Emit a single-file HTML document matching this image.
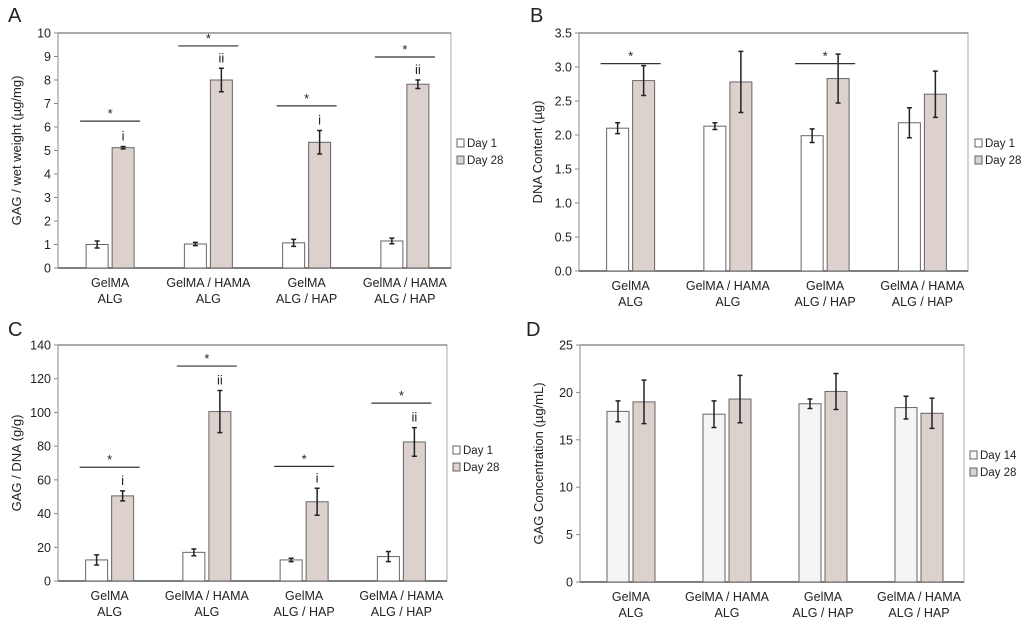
<!DOCTYPE html>
<html><head><meta charset="utf-8"><style>
body{margin:0;background:#fff;font-family:"Liberation Sans",sans-serif;}
svg{display:block}
text{font-family:"Liberation Sans",sans-serif;fill:#222}
</style></head><body>
<svg id="fig" width="1024" height="627" viewBox="0 0 1024 627"></svg>
<script>
const categories = [["GelMA","ALG"],["GelMA / HAMA","ALG"],["GelMA","ALG / HAP"],["GelMA / HAMA","ALG / HAP"]];
// Panel A
const aDay1 = [1.0, 1.02, 1.07, 1.15];
const aDay1Err = [0.15, 0.07, 0.15, 0.12];
const aDay28 = [5.12, 8.0, 5.35, 7.82];
const aDay28Err = [0.05, 0.5, 0.5, 0.18];
const aSig = [6.25, 9.45, 6.9, 8.98];
const aLetters = ["i","ii","i","ii"];
const aTicks = [0,1,2,3,4,5,6,7,8,9,10];
// Panel B
const bDay1 = [2.1, 2.13, 1.99, 2.18];
const bDay1Err = [0.08, 0.05, 0.1, 0.22];
const bDay28 = [2.8, 2.78, 2.83, 2.6];
const bDay28Err = [0.22, 0.45, 0.36, 0.34];
const bSig = [3.05, null, 3.05, null];
const bLetters = ["","","",""];
const bTicks = [0,0.5,1,1.5,2,2.5,3,3.5];
// Panel C
const cDay1 = [12.5, 17, 12.5, 14.5];
const cDay1Err = [3, 2, 1, 3];
const cDay28 = [50.5, 100.5, 47, 82.5];
const cDay28Err = [3, 12.5, 8, 8.5];
const cSig = [67.5, 127.5, 68, 105.5];
const cLetters = ["i","ii","i","ii"];
const cTicks = [0,20,40,60,80,100,120,140];
// Panel D
const dDay14 = [18, 17.7, 18.8, 18.4];
const dDay14Err = [1.1, 1.4, 0.5, 1.2];
const dDay28 = [19, 19.3, 20.1, 17.8];
const dDay28Err = [2.3, 2.5, 1.9, 1.6];
const dSig = [null,null,null,null];
const dLetters = ["","","",""];
const dTicks = [0,5,10,15,20,25];

const NS="http://www.w3.org/2000/svg";
const svg=document.getElementById('fig');
function mk(tag,attrs,parent,txt){const e=document.createElementNS(NS,tag);for(const k in attrs)e.setAttribute(k,attrs[k]);if(txt!==undefined)e.textContent=txt;(parent||svg).appendChild(e);return e;}

function panel(p){
  const g=mk('g',{});
  
  
  const ymax=p.ticks[p.ticks.length-1];
  const y=v=>p.y0-(v/ymax)*(p.y0-p.y1);
  const gw=(p.x1-p.x0)/4;
  const t=mk('text',{x:p.lx,y:p.ly,'font-size':20},g,p.id);
  
  
  const fr=mk('rect',{x:p.x0,y:p.y1,width:p.x1-p.x0,height:p.y0-p.y1,fill:'none',stroke:'#aaa','stroke-width':1},g);
  
  
  mk('line',{x1:p.x0,y1:p.y1,x2:p.x1,y2:p.y1,stroke:'#555'},g);
  const ax=mk('line',{x1:p.x0,y1:p.y0,x2:p.x1,y2:p.y0,stroke:'#555','stroke-width':1.5},g);
  
  
  const ay=mk('line',{x1:p.x0,y1:p.y0,x2:p.x0,y2:p.y1,stroke:'#888'},g);
  
  
  p.ticks.forEach(v=>{
    mk('line',{x1:p.x0-4,y1:y(v),x2:p.x0,y2:y(v),stroke:'#888'},g);
    const tl=mk('text',{x:p.x0-7,y:y(v)+4.5,'font-size':12.5,'text-anchor':'end'},g,p.fmt(v));
    
    
  });
  const cy=(p.y0+p.y1)/2;
  const yt=mk('text',{x:0,y:0,'font-size':13,'text-anchor':'middle',transform:`translate(${p.x0-37},${cy}) rotate(-90)`},g,p.ytitle);
  
  
  const bw=22;
  categories.forEach((c,i)=>{
    const cx=p.x0+gw*(i+0.5)+3;
    const series=[[p.s1,p.e1,p.fill1,-1],[p.s2,p.e2,'#dcd1cd',1]];
    series.forEach(([s,e,f,side],k)=>{
      const bx=side<0?cx-bw-2:cx+2;
      const r=mk('rect',{x:bx,y:y(s[i]),width:bw,height:y(0)-y(s[i]),fill:f,stroke:'#666','stroke-width':1},g);
      
      
      const mx=bx+bw/2;
      const eb=mk('path',{d:`M${mx},${y(s[i]+e[i])}V${y(s[i]-e[i])}M${mx-2.5},${y(s[i]+e[i])}H${mx+2.5}M${mx-2.5},${y(s[i]-e[i])}H${mx+2.5}`,stroke:'#222','stroke-width':1.5,fill:'none'},g);
      
      
    });
    if(p.let[i]){
      const lt=mk('text',{x:cx+2+bw/2,y:y(p.s2[i]+p.e2[i])-6,'font-size':13,'text-anchor':'middle'},g,p.let[i]);
      
      
    }
    if(p.sig[i]!=null){
      const sl=mk('line',{x1:cx-bw-8,y1:y(p.sig[i]),x2:cx+bw+8,y2:y(p.sig[i]),stroke:'#333','stroke-width':1.2},g);
      
      
      const st=mk('text',{x:cx,y:y(p.sig[i])-3,'font-size':13,'text-anchor':'middle'},g,'*');
      
      
    }
    const l1=mk('text',{x:cx,y:p.y0+19,'font-size':12.5,'text-anchor':'middle'},g,c[0]);
    
    
    const l2=mk('text',{x:cx,y:p.y0+35,'font-size':12.5,'text-anchor':'middle'},g,c[1]);
    
    
  });
  [[p.lab1,p.fill1],['Day 28','#dcd1cd']].forEach(([lab,f],k)=>{
    const ly=p.legY+k*17;
    const lr=mk('rect',{x:p.legX,y:ly-8,width:7,height:8,fill:f,stroke:'#666'},g);
    
    
    const lt=mk('text',{x:p.legX+10,y:ly,'font-size':11.5},g,lab);
    
    
  });
}
panel({id:'A',lx:8,ly:22,x0:58,x1:451,y0:268,y1:33,ticks:aTicks,fmt:v=>v,ytitle:'GAG / wet weight (µg/mg)',s1:aDay1,e1:aDay1Err,s2:aDay28,e2:aDay28Err,sig:aSig,let:aLetters,fill1:'#fff',n1:'day-1',lab1:'Day 1',legX:457,legY:147});
panel({id:'B',lx:530,ly:22,x0:579,x1:968,y0:271,y1:33,ticks:bTicks,fmt:v=>v.toFixed(1),ytitle:'DNA Content (µg)',s1:bDay1,e1:bDay1Err,s2:bDay28,e2:bDay28Err,sig:bSig,let:bLetters,fill1:'#fff',n1:'day-1',lab1:'Day 1',legX:975,legY:147});
panel({id:'C',lx:8,ly:336,x0:58,x1:447,y0:581,y1:345,ticks:cTicks,fmt:v=>v,ytitle:'GAG / DNA (g/g)',s1:cDay1,e1:cDay1Err,s2:cDay28,e2:cDay28Err,sig:cSig,let:cLetters,fill1:'#fff',n1:'day-1',lab1:'Day 1',legX:453,legY:454});
panel({id:'D',lx:526,ly:336,x0:580,x1:964,y0:582,y1:345,ticks:dTicks,fmt:v=>v,ytitle:'GAG Concentration (µg/mL)',s1:dDay14,e1:dDay14Err,s2:dDay28,e2:dDay28Err,sig:dSig,let:dLetters,fill1:'#f6f4f4',n1:'day-14',lab1:'Day 14',legX:970,legY:459});
</script>
</body></html>
